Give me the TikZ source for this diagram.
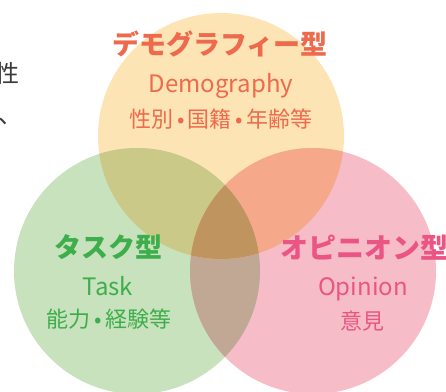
\documentclass[tikz,border=0pt]{standalone}
\usepackage{fontspec}
\newfontfamily\jp{Noto Sans CJK JP}
\definecolor{topc}{HTML}{FDE4B5}
\definecolor{leftc}{HTML}{C9E2BE}
\definecolor{rightc}{HTML}{F6BCC8}
\definecolor{tlc}{HTML}{CBC987}
\definecolor{trc}{HTML}{F5A98A}
\definecolor{lrc}{HTML}{C1A895}
\definecolor{allc}{HTML}{C0945F}
\definecolor{orangetxt}{HTML}{EE6A4C}
\definecolor{greentxt}{HTML}{3DAE4B}
\definecolor{pinktxt}{HTML}{EB5584}
\definecolor{graytxt}{HTML}{3A3A3A}
\newcommand{\jdot}{\hspace{3.5pt}•\hspace{3.5pt}}
\tikzset{
  title/.style={inner sep=0pt, font=\jp\bfseries\fontsize{27}{27}\selectfont},
  latin/.style={inner sep=0pt, anchor=base, font=\jp\fontsize{24}{24}\selectfont},
  sub/.style={inner sep=0pt, font=\jp\fontsize{22}{22}\selectfont},
  body/.style={inner sep=0pt, text=graytxt, font=\jp\fontsize{24}{24}\selectfont},
}
\begin{document}
\begin{tikzpicture}[x=1pt,y=-1pt]
\useasboundingbox (0,0) rectangle (446,391);
\clip (0,0) rectangle (446,391);
\def\r{123}
\coordinate (T) at (221,136);
\coordinate (L) at (137,271);
\coordinate (R) at (313,271);
% circles
\fill[topc] (T) circle (\r);
\fill[leftc] (L) circle (\r);
\fill[rightc] (R) circle (\r);
\begin{scope}
  \clip (L) circle (\r);
  \fill[lrc] (R) circle (\r);
\end{scope}
\begin{scope}
  \clip (T) circle (\r);
  \fill[tlc] (L) circle (\r);
  \fill[trc] (R) circle (\r);
  \clip (L) circle (\r);
  \fill[allc] (R) circle (\r);
\end{scope}
% cut-off body text at left edge
\node[body, anchor=west] (b1) at (-5,73) {性};
\node[body, anchor=west] (b2) at (-2,121) {、};
% top
\node[title, text=orangetxt] (t1) at (220,44) {デモグラフィー型};
\node[latin, text=orangetxt] (t2) at (221,92) {Demography};
\node[sub, text=orangetxt] (t3) at (221,119) {性別\jdot 国籍\jdot 年齢等};
% left
\node[title, text=greentxt] (l1) at (108,247) {タスク型};
\node[latin, text=greentxt] (l2) at (108,295) {Task};
\node[sub, text=greentxt] (l3) at (109,319) {能力\jdot 経験等};
% right
\node[title, text=pinktxt, font=\jp\bfseries\fontsize{28}{28}\selectfont] (r1) at (364,248) {オピニオン型};
\node[latin, text=pinktxt] (r2) at (363,295) {Opinion};
\node[sub, text=pinktxt] (r3) at (362,321) {意見};
\end{tikzpicture}
\end{document}
